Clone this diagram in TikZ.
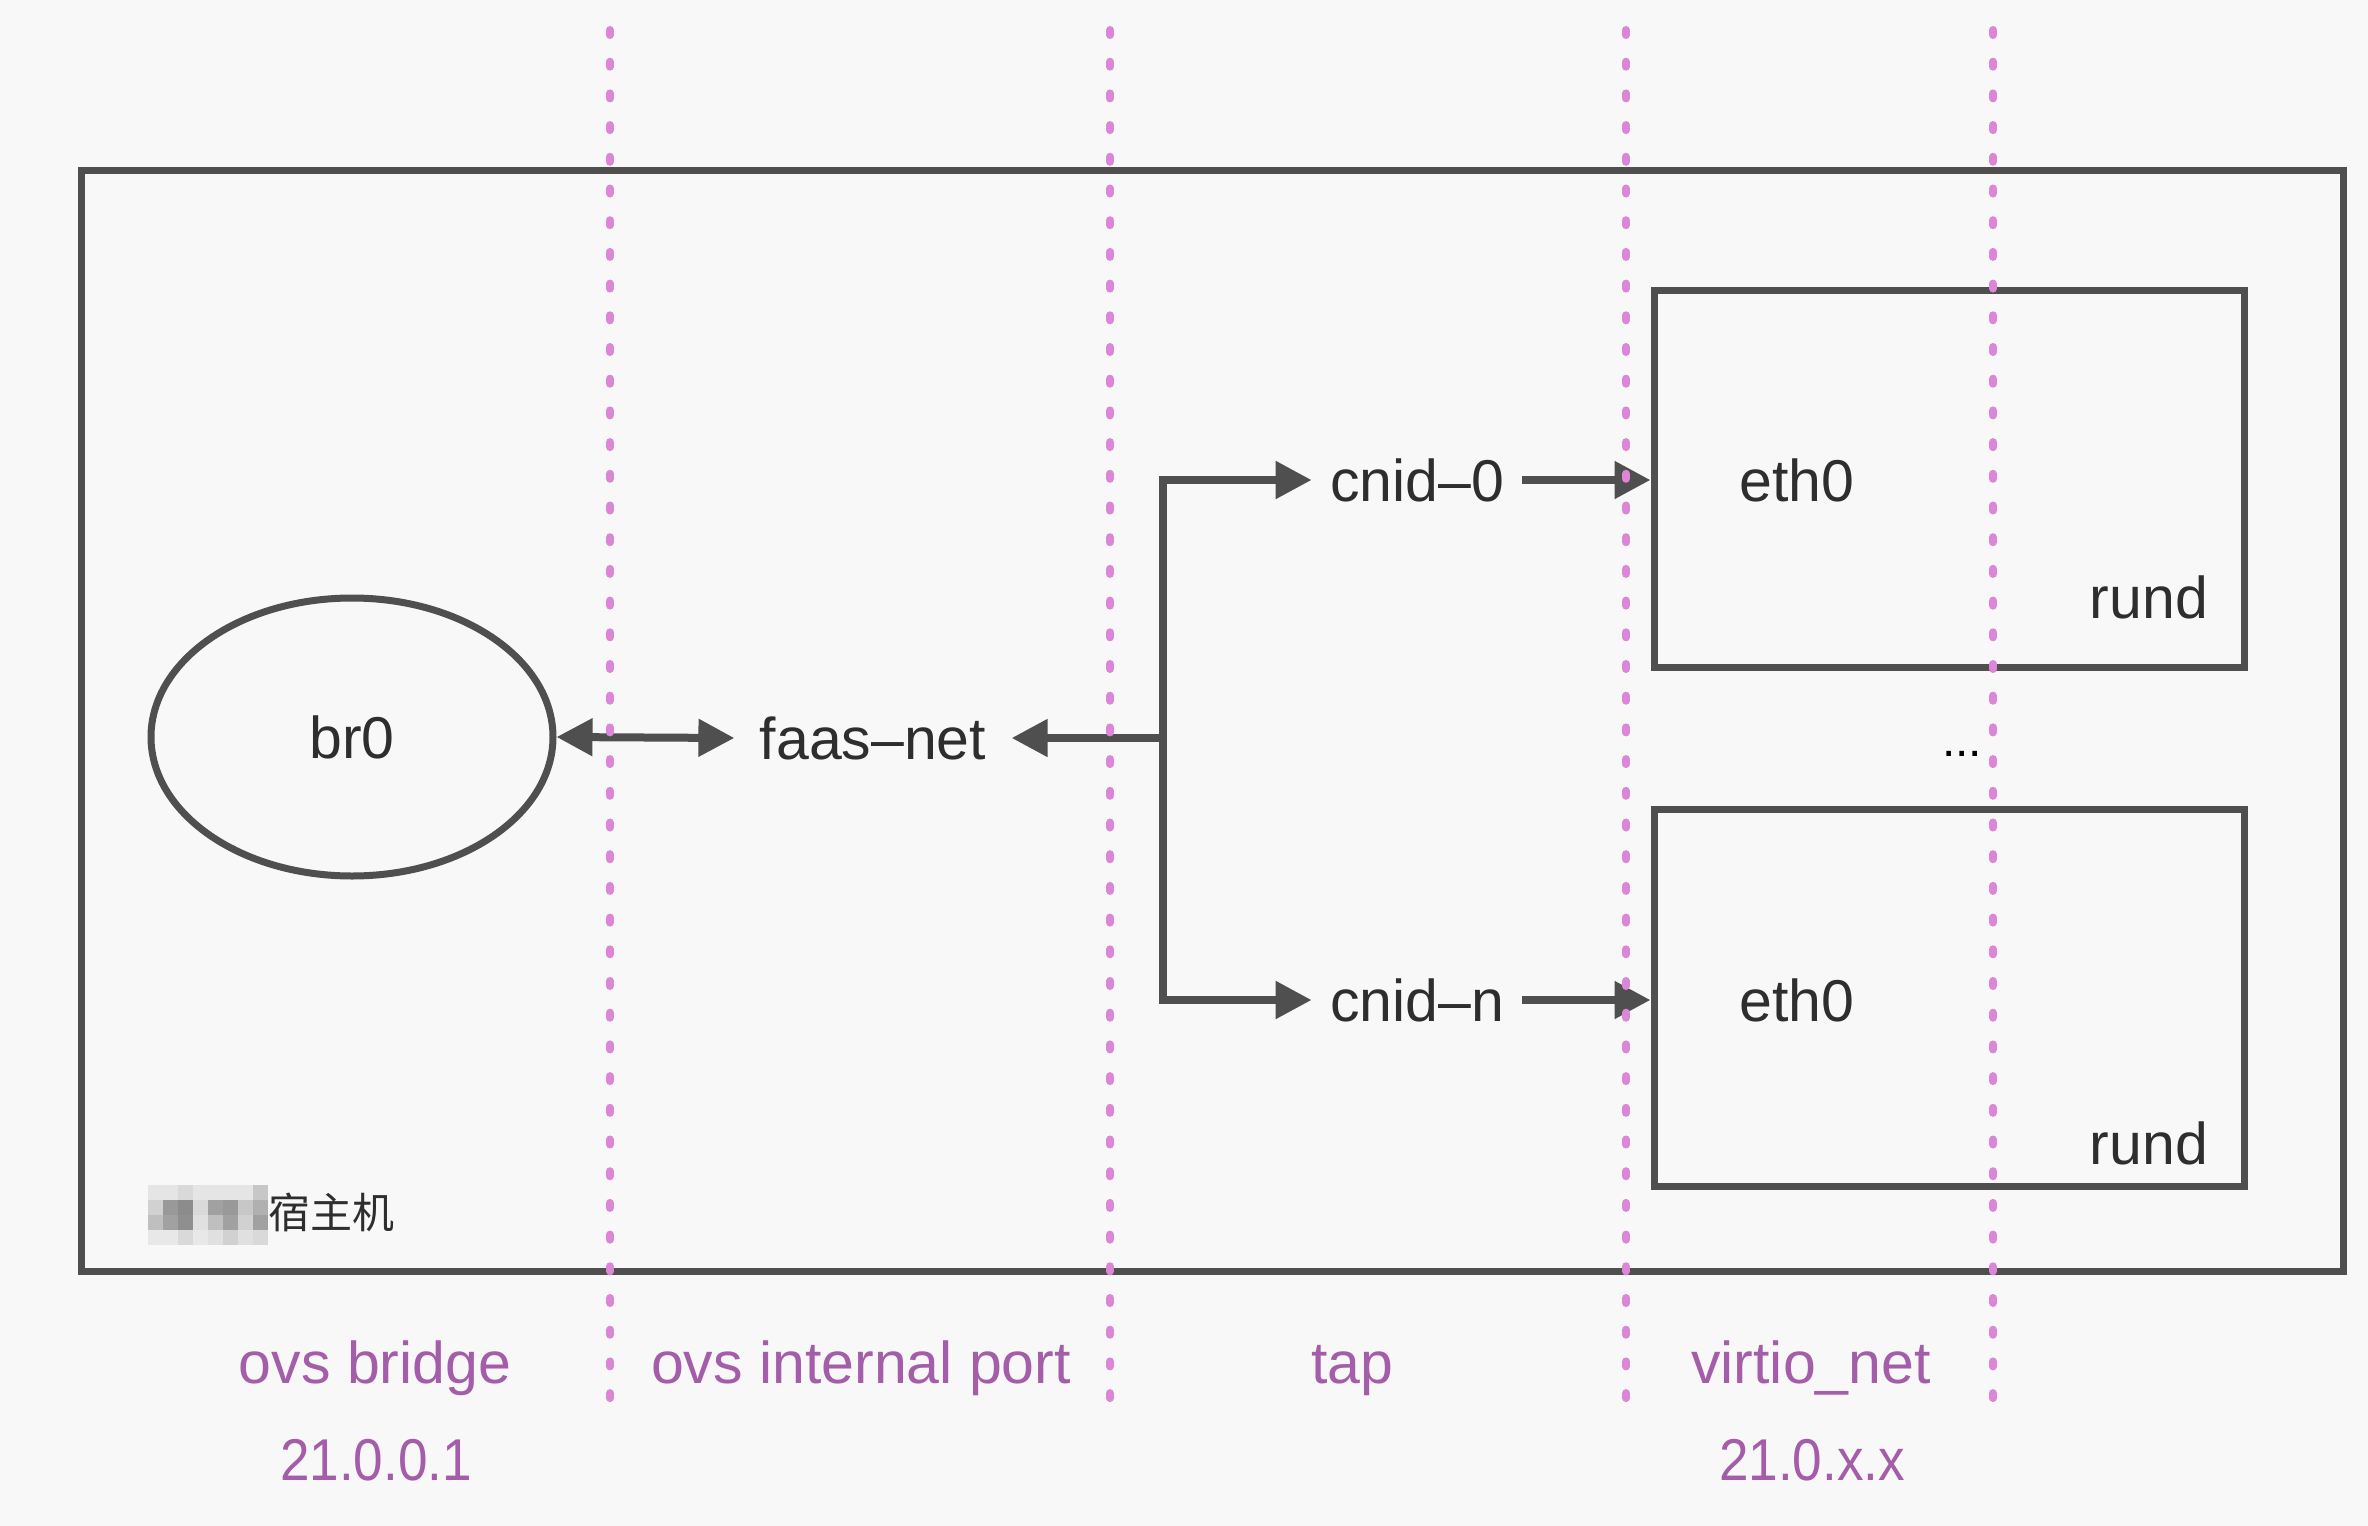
\documentclass[tikz,border=0pt]{standalone}
\usepackage{fontspec}
\setmainfont{Liberation Sans}
\newfontfamily\cjk{Noto Sans CJK SC}
\newfontfamily\narrowfont{Liberation Sans}[FakeStretch=0.9]
\usetikzlibrary{arrows.meta,shapes.geometric}
\definecolor{bgc}{HTML}{F8F8F8}
\definecolor{linec}{HTML}{4F4F4F}
\definecolor{txtc}{HTML}{2E2E2E}
\definecolor{purp}{HTML}{A45DA8}
\definecolor{pinkd}{HTML}{DB86D6}
\begin{document}
\begin{tikzpicture}[x=0.5pt,y=-0.5pt,
  lbl/.style={font=\fontsize{29.5}{35}\selectfont, text=txtc, inner sep=0pt, text height=21pt, text depth=0pt},
  plbl/.style={font=\fontsize{29.5}{35}\selectfont, text=purp, inner sep=0pt, anchor=base},
  nlbl/.style={font=\narrowfont\fontsize{29.5}{35}\selectfont, text=purp, inner sep=0pt, anchor=base},
  conn/.style={draw=linec, line width=4pt},
  tip/.tip={Triangle[length=18pt,width=18pt]},
  arr/.style={-tip},
  darr/.style={tip-tip},
  vmbox/.style={draw=linec, line width=3.5pt, minimum width=295pt, minimum height=188.5pt, inner sep=0pt},
  sep/.style={draw=pinkd, line width=4pt, line cap=round, dash pattern=on 2.5pt off 13.35pt}
]
\fill[bgc] (0,0) rectangle (2368,1526);
\useasboundingbox (0,0) rectangle (2368,1526);

% host frame
\node[draw=linec, line width=3.5pt, minimum width=1131pt, minimum height=550.5pt, inner sep=0pt] (host) at (1212.6,721.1) {};

% mosaic (blurred text)
\foreach \v [count=\c from 0] in {10,10,15,10,10,10,10,22}
  \fill[black!\v] (148+15*\c,1185) rectangle ++(15,15);
\foreach \v [count=\c from 0] in {18,40,45,15,37,40,22,31}
  \fill[black!\v] (148+15*\c,1200) rectangle ++(15,15);
\foreach \v [count=\c from 0] in {25,37,44,12,25,37,18,37}
  \fill[black!\v] (148+15*\c,1215) rectangle ++(15,15);
\foreach \v [count=\c from 0] in {9,9,15,9,12,18,12,15}
  \fill[black!\v] (148+15*\c,1230) rectangle ++(15,15);
\node[anchor=west, font=\cjk\fontsize{21}{25}\selectfont, text=txtc, inner sep=0pt] (hostlabel) at (268,1212) {宿主机};

% br0 and faas-net
\node[ellipse, draw=linec, line width=3.5pt, minimum width=201pt, minimum height=139pt, lbl] (br0) at (352,737) {br0};
\node[lbl, inner xsep=12.5pt] (faas) at (873,738) {faas--net};
\draw[conn, darr] (br0.east) -- (faas.west);

\coordinate (jm) at (1163,738);
\draw[conn, arr] (jm) -- (faas.east);

% cnid
\node[lbl, inner xsep=9pt] (cnid0) at (1417,480) {cnid--0};
\node[lbl, inner xsep=9pt] (cnidn) at (1417,1000) {cnid--n};
\draw[conn, darr] (cnid0.west) -| (jm) |- (cnidn.west);

% rund boxes
\node[vmbox] (vm1) at (1949,478.5) {};
\node[vmbox] (vm2) at (1949,998) {};
\draw[conn, arr] (cnid0.east) -- (cnid0.east -| vm1.west);
\draw[conn, arr] (cnidn.east) -- (cnidn.east -| vm2.west);

\node[lbl] (eth1) at (1797,480) {eth0};
\node[lbl] (eth2) at (1797,1000) {eth0};
\node[lbl] (rund1) at (2149,597) {rund};
\node[lbl] (rund2) at (2149,1143) {rund};
\node[font=\fontsize{24}{28}\selectfont, text=black, inner sep=0pt, anchor=base] (dots) at (1962,756) {...};

% separators
\foreach \x in {610,1110,1626,1993}{
  \draw[sep] (\x,30) -- (\x,1420);
}

% bottom labels
\node[plbl] (l1) at (375,1383) {ovs bridge};
\node[nlbl] (l1b) at (376,1480) {21.0.0.1};
\node[plbl] (l2) at (861,1383) {ovs internal port};
\node[plbl] (l3) at (1352,1383) {tap};
\node[plbl] (l4) at (1811,1383) {virtio\_net};
\node[nlbl] (l4b) at (1812,1480) {21.0.x.x};
\end{tikzpicture}
\end{document}
